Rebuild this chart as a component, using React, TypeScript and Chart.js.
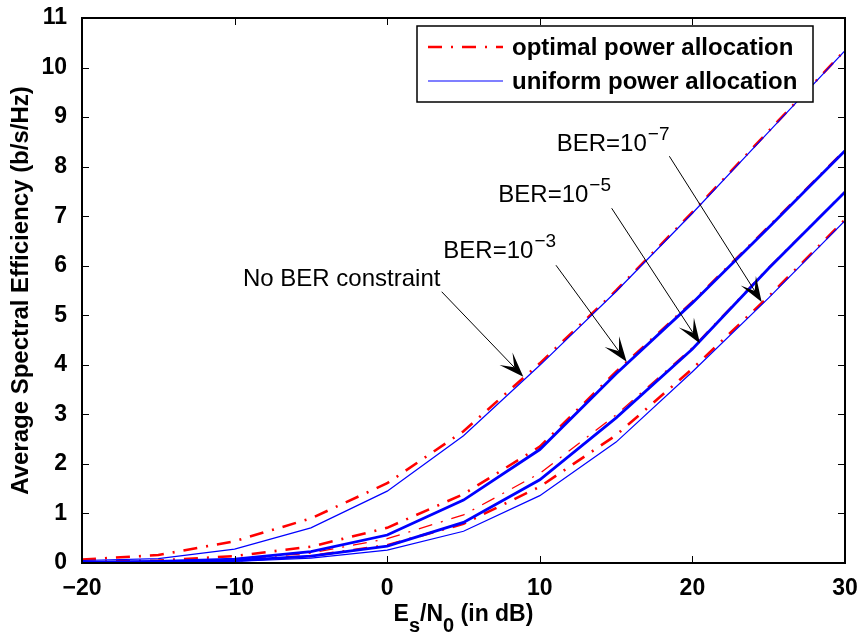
import React, { useEffect, useRef } from "react";
import { Chart, registerables } from "chart.js";

Chart.register(...registerables);

// ---------- data ----------
const snrDb = [-20, -15, -10, -5, 0, 5, 10, 15, 20, 25, 30];

const noBerOptimal = [0.07, 0.16, 0.44, 0.9, 1.61, 2.66, 4.03, 5.5, 7.08, 8.72, 10.35];
const noBerUniform = [0.05, 0.09, 0.28, 0.71, 1.45, 2.57, 3.99, 5.48, 7.06, 8.7, 10.34];
const ber3Optimal = [0.02, 0.05, 0.14, 0.33, 0.71, 1.39, 2.35, 3.86, 5.27, 6.79, 8.33];
const ber3Uniform = [0.01, 0.03, 0.08, 0.23, 0.565, 1.27, 2.29, 3.82, 5.25, 6.77, 8.32];
const ber5Optimal = [0.01, 0.025, 0.07, 0.2, 0.49, 0.97, 1.81, 2.99, 4.35, 5.97, 7.5];
const ber5Uniform = [0.01, 0.02, 0.05, 0.14, 0.34, 0.82, 1.68, 2.93, 4.32, 5.95, 7.49];
const ber7Optimal = [0.005, 0.015, 0.05, 0.14, 0.36, 0.79, 1.54, 2.58, 3.92, 5.38, 6.93];
const ber7Uniform = [0.005, 0.01, 0.03, 0.1, 0.26, 0.64, 1.36, 2.44, 3.86, 5.35, 6.91];

const xTickValues = [-20, -10, 0, 10, 20, 30];
const yTickValues = [0, 1, 2, 3, 4, 5, 6, 7, 8, 9, 10, 11];

const legendLabels = ["optimal power allocation", "uniform power allocation"];

// annotation labels (text + superscript) and arrow anchors in data units
const annoBase = ["No BER constraint", "BER=10", "BER=10", "BER=10"];
const annoSup = ["", "\u22123", "\u22125", "\u22127"];
const annoTextX = [-9.45, 3.68, 7.28, 11.11];
const annoTextY = [5.59, 6.15, 7.29, 8.32];
const arrowTailX = [3.57, 11.06, 14.71, 18.49];
const arrowTailY = [5.475, 6.01, 7.16, 8.21];
const arrowTipX = [8.92, 15.69, 20.5, 24.54];
const arrowTipY = [3.76, 4.06, 4.43, 5.27];

const yTitle = "Average Spectral Efficiency (b/s/Hz)";
const xTitleParts: { t: string; sub?: boolean }[] = [
  { t: "E" },
  { t: "s", sub: true },
  { t: "/N" },
  { t: "0", sub: true },
  { t: " (in dB)" },
];

// ---------- styles ----------
const FONT = "'Liberation Sans', Arial, Helvetica, sans-serif";
const RED = "#ff0000";
const BLUE = "#0000ff";
const DASHDOT = [14, 9, 2, 9];

const pts = (ys: number[]) => snrDb.map((x, i) => ({ x, y: ys[i] }));

const overlayPlugin = {
  id: "overlay",
  afterDatasetsDraw(chart: any) {
    const { ctx, chartArea: a, scales } = chart;
    const xs = scales.x;
    const ys = scales.y;
    ctx.save();

    // inward ticks on all four sides
    ctx.strokeStyle = "#000";
    ctx.lineWidth = 1;
    ctx.beginPath();
    xTickValues.forEach((v) => {
      const p = Math.round(xs.getPixelForValue(v)) + 0.5;
      ctx.moveTo(p, a.bottom);
      ctx.lineTo(p, a.bottom - 7);
      ctx.moveTo(p, a.top);
      ctx.lineTo(p, a.top + 7);
    });
    yTickValues.forEach((v) => {
      const p = Math.round(ys.getPixelForValue(v)) + 0.5;
      ctx.moveTo(a.left, p);
      ctx.lineTo(a.left + 7, p);
      ctx.moveTo(a.right, p);
      ctx.lineTo(a.right - 7, p);
    });
    ctx.stroke();

    // box
    ctx.lineWidth = 2;
    ctx.strokeRect(a.left, a.top, a.right - a.left, a.bottom - a.top);

    // annotations
    ctx.fillStyle = "#000";
    ctx.textBaseline = "alphabetic";
    ctx.textAlign = "left";
    annoBase.forEach((txt, i) => {
      const tx = xs.getPixelForValue(annoTextX[i]);
      const ty = ys.getPixelForValue(annoTextY[i]);
      ctx.font = `24px ${FONT}`;
      ctx.fillText(txt, tx, ty);
      if (annoSup[i]) {
        const w = ctx.measureText(txt).width;
        ctx.font = `19px ${FONT}`;
        ctx.fillText(annoSup[i], tx + w + 1, ty - 11);
      }
      // arrow
      const x0 = xs.getPixelForValue(arrowTailX[i]);
      const y0 = ys.getPixelForValue(arrowTailY[i]);
      const x1 = xs.getPixelForValue(arrowTipX[i]);
      const y1 = ys.getPixelForValue(arrowTipY[i]);
      const len = Math.hypot(x1 - x0, y1 - y0);
      const ux = (x1 - x0) / len;
      const uy = (y1 - y0) / len;
      const px = -uy;
      const py = ux;
      const L = 25, W = 9, N = 13;
      ctx.lineWidth = 1;
      ctx.beginPath();
      ctx.moveTo(x0, y0);
      ctx.lineTo(x1 - ux * N, y1 - uy * N);
      ctx.stroke();
      ctx.beginPath();
      ctx.moveTo(x1, y1);
      ctx.lineTo(x1 - ux * L + px * W, y1 - uy * L + py * W);
      ctx.lineTo(x1 - ux * N, y1 - uy * N);
      ctx.lineTo(x1 - ux * L - px * W, y1 - uy * L - py * W);
      ctx.closePath();
      ctx.fill();
    });

    // legend box
    const lx = 417, ly = 26, lw = 396, lh = 76;
    ctx.fillStyle = "#fff";
    ctx.fillRect(lx, ly, lw, lh);
    ctx.strokeStyle = "#000";
    ctx.lineWidth = 1.5;
    ctx.strokeRect(lx, ly, lw, lh);
    const rows = [47, 81];
    // sample lines
    ctx.lineWidth = 2.5;
    ctx.strokeStyle = RED;
    ctx.setLineDash(DASHDOT);
    ctx.beginPath();
    ctx.moveTo(428, rows[0]);
    ctx.lineTo(503, rows[0]);
    ctx.stroke();
    ctx.setLineDash([]);
    ctx.lineWidth = 1.2;
    ctx.strokeStyle = BLUE;
    ctx.beginPath();
    ctx.moveTo(428, rows[1]);
    ctx.lineTo(503, rows[1]);
    ctx.stroke();
    ctx.fillStyle = "#000";
    ctx.font = `bold 24px ${FONT}`;
    ctx.textBaseline = "middle";
    legendLabels.forEach((l, i) => ctx.fillText(l, 512, rows[i] + 1));

    // x title with subscripts
    ctx.textBaseline = "alphabetic";
    const big = `bold 23px ${FONT}`;
    const small = `bold 20px ${FONT}`;
    let total = 0;
    xTitleParts.forEach((p) => {
      ctx.font = p.sub ? small : big;
      total += ctx.measureText(p.t).width;
    });
    let cx = (a.left + a.right) / 2 - total / 2;
    const base = 621;
    xTitleParts.forEach((p) => {
      ctx.font = p.sub ? small : big;
      ctx.fillText(p.t, cx, p.sub ? base + 11 : base);
      cx += ctx.measureText(p.t).width;
    });

    ctx.restore();
  },
};

export default function App() {
  const ref = useRef<HTMLCanvasElement | null>(null);

  useEffect(() => {
    if (!ref.current) return;
    const mk = (label: string, ys: number[], color: string, width: number, dashed: boolean) => ({
      label,
      data: pts(ys),
      borderColor: color,
      backgroundColor: color,
      borderWidth: width,
      borderDash: dashed ? DASHDOT : [],
      borderCapStyle: "butt" as const,
      pointRadius: 0,
      tension: 0,
      fill: false,
      order: dashed ? 1 : 0,
    });
    const chart = new Chart(ref.current, {
      type: "line",
      data: {
        datasets: [
          mk("uniform no BER", noBerUniform, BLUE, 1.2, false),
          mk("uniform 1e-3", ber3Uniform, BLUE, 2.8, false),
          mk("uniform 1e-5", ber5Uniform, BLUE, 2.8, false),
          mk("uniform 1e-7", ber7Uniform, BLUE, 1.2, false),
          mk("optimal no BER", noBerOptimal, RED, 2.6, true),
          mk("optimal 1e-3", ber3Optimal, RED, 2.6, true),
          mk("optimal 1e-5", ber5Optimal, RED, 1.3, true),
          mk("optimal 1e-7", ber7Optimal, RED, 2.6, true),
        ],
      },
      options: {
        animation: false,
        responsive: true,
        maintainAspectRatio: false,
        layout: { autoPadding: false, padding: { top: 18, right: 16, left: 0, bottom: 0 } },
        plugins: { legend: { display: false }, tooltip: { enabled: false } },
        scales: {
          x: {
            type: "linear",
            min: -20,
            max: 30,
            afterBuildTicks: (s: any) => {
              s.ticks = xTickValues.map((v) => ({ value: v }));
            },
            afterFit: (s: any) => {
              s.height = 74;
              s.paddingLeft = 0;
              s.paddingRight = 0;
            },
            grid: { display: false },
            border: { display: false },
            ticks: {
              color: "#000",
              padding: 4,
              maxRotation: 0,
              font: { family: FONT, size: 23, weight: "bold" },
              callback: (v: any) => (Number(v) < 0 ? "\u2212" + Math.abs(Number(v)) : String(v)),
            },
          },
          y: {
            type: "linear",
            min: 0,
            max: 11,
            afterBuildTicks: (s: any) => {
              s.ticks = yTickValues.map((v) => ({ value: v }));
            },
            afterFit: (s: any) => {
              s.width = 82;
              s.paddingTop = 0;
              s.paddingBottom = 0;
            },
            grid: { display: false },
            border: { display: false },
            title: {
              display: true,
              text: yTitle,
              color: "#000",
              padding: { top: 7, bottom: 0 },
              font: { family: FONT, size: 24, weight: "bold" },
            },
            ticks: {
              color: "#000",
              padding: 7,
              font: { family: FONT, size: 23, weight: "bold" },
            },
          },
        },
      },
      plugins: [overlayPlugin],
    });
    return () => chart.destroy();
  }, []);

  return (
    <div style={{ position: "fixed", left: 0, top: 0, width: 861, height: 637, background: "#fff" }}>
      <canvas ref={ref} />
    </div>
  );
}
